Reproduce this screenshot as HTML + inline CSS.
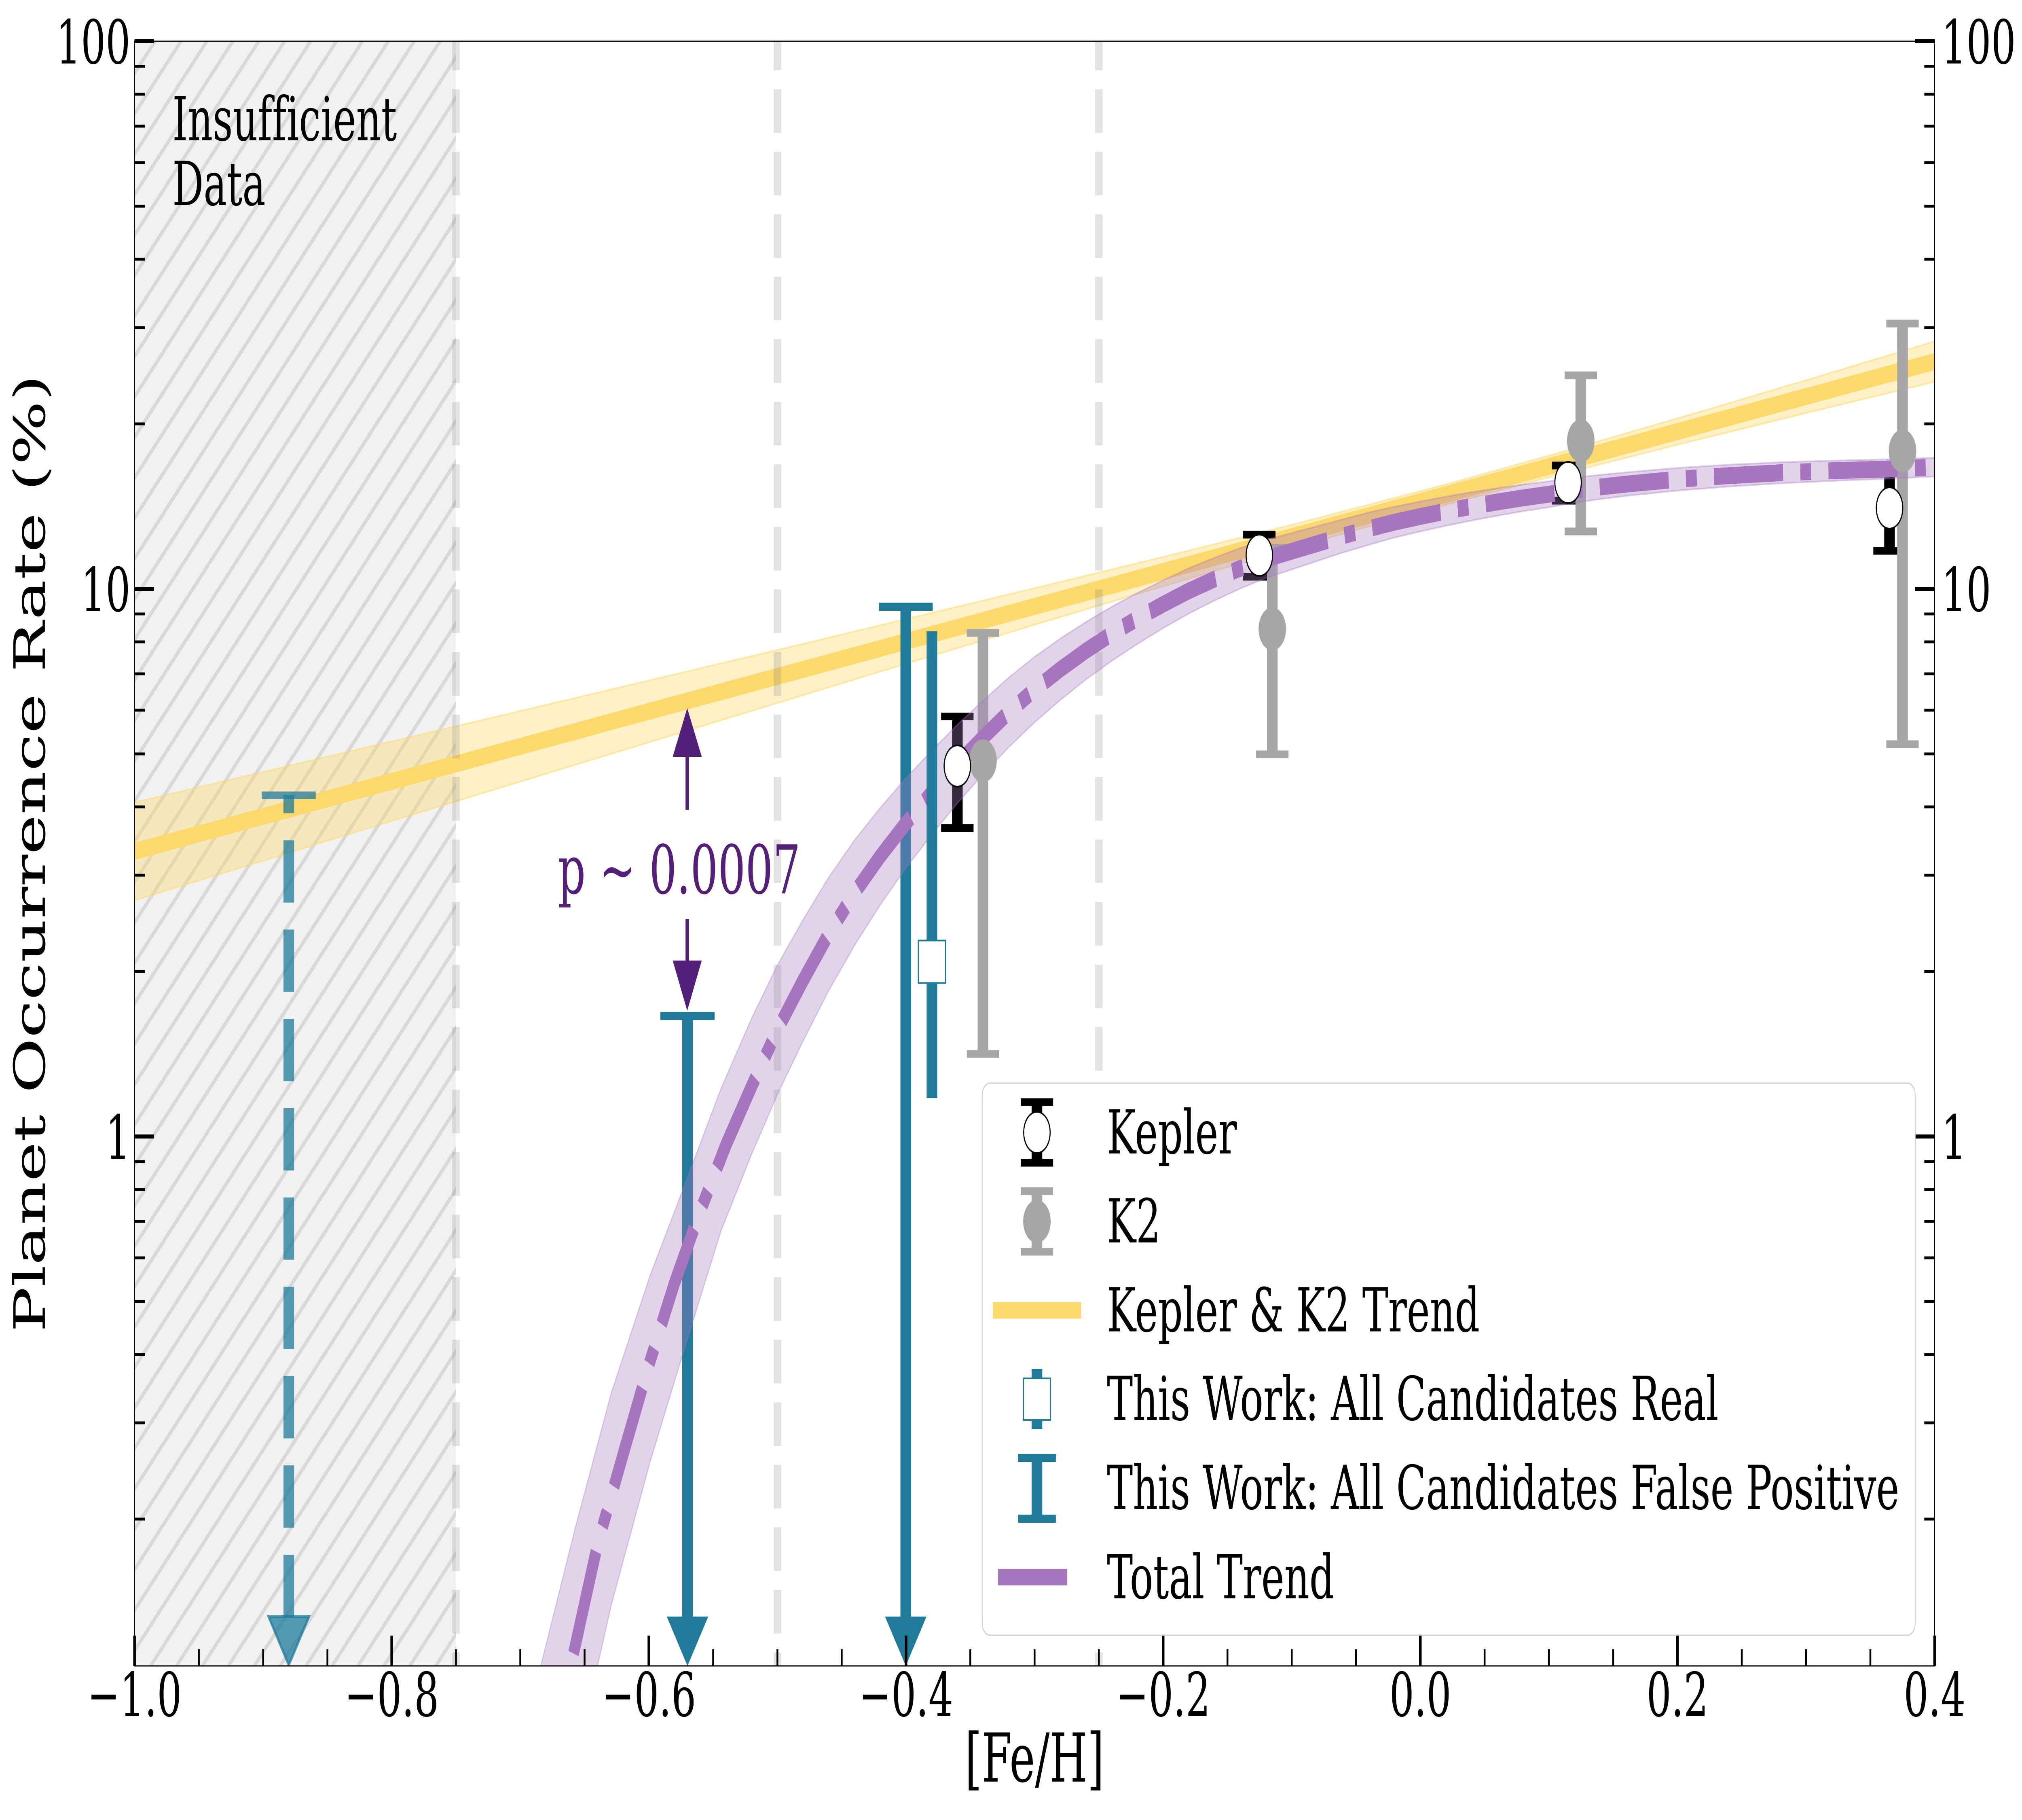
<!DOCTYPE html>
<html>
<head>
<meta charset="utf-8">
<meta name="viewport" content="width=device-width, initial-scale=1">
<style>
html,body{margin:0;padding:0;background:#fff;width:100%;height:100%;overflow:hidden;}
svg{display:block;width:100vw;height:100vh;}
text{font-family:"DejaVu Serif","Liberation Serif",serif;font-variant-ligatures:none;}
</style>
</head>
<body>
<svg xmlns="http://www.w3.org/2000/svg" viewBox="0 0 7800 4500" preserveAspectRatio="none" overflow="hidden">
<defs>
  <clipPath id="ax"><rect x="519" y="102" width="6944" height="4017"/></clipPath>
  <pattern id="hatch" patternUnits="userSpaceOnUse" width="70.71" height="70.71" patternTransform="rotate(-45)">
    <rect x="0" y="0" width="70.71" height="70.71" fill="#f1f1f1"/>
    <rect x="0" y="0" width="70.71" height="5.5" fill="#d8d8d8"/>
    <rect x="0" y="65.21" width="70.71" height="5.5" fill="#d8d8d8"/>
  </pattern>
</defs>
<rect x="0" y="0" width="7800" height="4500" fill="#fff"/>

<g clip-path="url(#ax)">
  <!-- hatched insufficient-data region -->
  <rect x="519" y="102" width="1240" height="4017" fill="url(#hatch)"/>

  <!-- yellow Kepler & K2 trend band -->
  <polygon fill="rgba(253,216,106,0.37)" stroke="rgba(253,216,106,0.55)" stroke-width="4"
    points="519,1984 1000,1911 1500,1835 2000,1759 2500,1683 3000,1607 3500,1530 4000,1453 4500,1375 5000,1295 5600,1194 6000,1122 6500,1029 7000,934 7463,844 7463,944 7000,1016 6500,1095 6000,1176 5600,1244 5000,1352 4500,1447 4000,1543 3500,1640 3000,1738 2500,1836 2000,1934 1500,2032 1000,2131 519,2226"/>
  <line x1="519" y1="2105" x2="7463" y2="894" stroke="#fdd86a" stroke-width="41.7"/>

  <!-- dashed vertical lines -->
  <line x1="1759" y1="66" x2="1759" y2="4300" stroke="rgba(128,128,128,0.22)" stroke-width="29" stroke-dasharray="107.9 46.7"/>
  <line x1="2999" y1="66" x2="2999" y2="4300" stroke="rgba(128,128,128,0.22)" stroke-width="29" stroke-dasharray="107.9 46.7"/>
  <line x1="4239" y1="66" x2="4239" y2="4300" stroke="rgba(128,128,128,0.22)" stroke-width="29" stroke-dasharray="107.9 46.7"/>

  <!-- Teal false-positive upper limits -->
  <g fill="rgba(32,123,155,0.75)">
    <rect x="1010" y="1957" width="208" height="19"/>
    <polygon points="1036,3997 1192,3997 1114,4117" stroke="rgba(32,123,155,0.75)" stroke-width="8"/>
  </g>
  <line x1="1114" y1="3998" x2="1114" y2="1966" stroke="rgba(32,123,155,0.75)" stroke-width="41" stroke-dasharray="154 66.8"/>

  <g fill="#207b9b">
    <rect x="2547.5" y="2502" width="209" height="20"/>
    <rect x="2631.5" y="2512" width="41" height="1486"/>
    <polygon points="2572,3997 2732,3997 2652,4119"/>
    <rect x="3390" y="1490" width="208" height="20"/>
    <rect x="3473.5" y="1500" width="41" height="2498"/>
    <polygon points="3414,3997 3574,3997 3494,4119"/>
  </g>

  <!-- Kepler errorbars -->
  <g fill="#000">
    <rect x="3672.5" y="1771" width="41" height="276"/>
    <rect x="3630.5" y="1762" width="125" height="19"/>
    <rect x="3630.5" y="2038" width="125" height="19"/>
    <rect x="4837.5" y="1322" width="41" height="104"/>
    <rect x="4795.5" y="1312.5" width="125" height="19"/>
    <rect x="4795.5" y="1416.5" width="125" height="19"/>
    <rect x="6028.5" y="1151" width="41" height="87"/>
    <rect x="5986.5" y="1141.5" width="125" height="19"/>
    <rect x="5986.5" y="1228.5" width="125" height="19"/>
    <rect x="7268.5" y="1166" width="41" height="196"/>
    <rect x="7226.5" y="1156.5" width="125" height="19"/>
    <rect x="7226.5" y="1352.5" width="125" height="19"/>
  </g>
  <!-- K2 errorbars -->
  <g fill="#a6a6a6">
    <rect x="3771.5" y="1565" width="41" height="1041"/>
    <rect x="3729.5" y="1555.5" width="125" height="19"/>
    <rect x="3729.5" y="2596.5" width="125" height="19"/>
    <rect x="4887.5" y="1355" width="41" height="510"/>
    <rect x="4845.5" y="1345.5" width="125" height="19"/>
    <rect x="4845.5" y="1855.5" width="125" height="19"/>
    <rect x="6077.5" y="928" width="41" height="386"/>
    <rect x="6035.5" y="918.5" width="125" height="19"/>
    <rect x="6035.5" y="1304.5" width="125" height="19"/>
    <rect x="7318.5" y="800" width="41" height="1040"/>
    <rect x="7276.5" y="790.5" width="125" height="19"/>
    <rect x="7276.5" y="1830.5" width="125" height="19"/>
  </g>

  <!-- Purple total trend band -->
  <polygon fill="rgba(166,117,190,0.33)" stroke="rgba(166,117,190,0.35)" stroke-width="4"
    points="2040,4237 2086,4119 2219,3778 2359,3442 2508,3153 2641,2930 2781,2692 2900,2517 2999,2386 3098,2274 3197,2169 3297,2077 3396,1997 3495,1924 3594,1856 3693,1792 3793,1732 3892,1675 3991,1624 4090,1579 4189,1538 4289,1500 4388,1466 4487,1435 4586,1405 4685,1379 4785,1355 4884,1335 4983,1318 5082,1301 5181,1284 5281,1267 5380,1253 5479,1240 5578,1228 5677,1217 5777,1207 5876,1198 5975,1190 6074,1181 6174,1174 6273,1168 6471,1157 6670,1149 6868,1143 7067,1139 7265,1136 7463,1132 7600,1129 7600,1175 7463,1178 7265,1184 7067,1189 6868,1195 6670,1203 6471,1213 6273,1226 6174,1234 6074,1243 5975,1254 5876,1264 5777,1275 5677,1287 5578,1300 5479,1314 5380,1329 5281,1347 5181,1366 5082,1387 4983,1408 4884,1429 4785,1455 4685,1485 4586,1517 4487,1553 4388,1592 4289,1634 4189,1680 4090,1731 3991,1786 3892,1847 3793,1914 3693,1986 3594,2064 3495,2146 3396,2237 3297,2337 3197,2449 3098,2574 2999,2706 2900,2853 2781,3044 2641,3333 2508,3614 2359,3966 2305,4119 2260,4246"/>
  <!-- Purple total trend line (dash-dot) -->
  <path fill="none" stroke="#a675be" stroke-width="41.7" stroke-dasharray="266.7 66.7 41.7 66.7" stroke-dashoffset="53.3"
    d="M2106,4462 L2205,4110 L2305,3819 L2404,3595 L2503,3375 L2602,3172 L2702,2993 L2801,2830 L2900,2685 L2999,2546 L3098,2424 L3197,2309 L3297,2207 L3396,2117 L3495,2035 L3594,1960 L3693,1889 L3793,1823 L3892,1761 L3991,1705 L4090,1655 L4189,1609 L4289,1567 L4388,1529 L4487,1494 L4586,1461 L4685,1432 L4785,1405 L4884,1382 L4983,1363 L5082,1344 L5181,1325 L5281,1307 L5380,1291 L5479,1277 L5578,1264 L5677,1252 L5777,1241 L5876,1231 L5975,1222 L6074,1212 L6174,1204 L6273,1197 L6471,1185 L6670,1176 L6868,1169 L7067,1164 L7265,1160 L7463,1155 L7600,1152"/>

  <!-- This Work: all candidates real -->
  <rect x="3574.5" y="1561" width="41" height="1154" fill="#207b9b"/>
  <rect x="3542.5" y="2325.5" width="105" height="105" fill="#fff" stroke="#207b9b" stroke-width="4"/>

  <!-- markers -->
  <g fill="#a6a6a6">
    <circle cx="3792" cy="1881" r="53"/>
    <circle cx="4908" cy="1555" r="53"/>
    <circle cx="6098" cy="1090" r="53"/>
    <circle cx="7339" cy="1115" r="53"/>
  </g>
  <g fill="#fff" stroke="#000" stroke-width="4">
    <circle cx="3693" cy="1894" r="51"/>
    <circle cx="4858" cy="1373" r="51"/>
    <circle cx="6049" cy="1193" r="51"/>
    <circle cx="7289" cy="1256" r="51"/>
  </g>

  <!-- p-value annotation arrows -->
  <g fill="#531f78">
    <rect x="2644.5" y="1871" width="13" height="131"/>
    <polygon points="2595,1871 2707,1871 2651,1751"/>
    <rect x="2644.5" y="2272" width="13" height="103"/>
    <polygon points="2595,2375 2707,2375 2651,2499"/>
  </g>
</g>

<text x="2620" y="2209" font-size="166.7" text-anchor="middle" fill="#531f78">p ~ 0.0007</text>

<!-- Insufficient data -->
<text x="665" y="347" font-size="150" fill="#000">Insufficient</text>
<text x="665" y="507" font-size="150" fill="#000">Data</text>

<!-- spines -->
<rect x="519" y="102" width="6944" height="4017" fill="none" stroke="#000" stroke-width="3"/>

<!-- major ticks -->
<path stroke="#000" stroke-width="10" fill="none"
  d="M519,102h75 M519,1456h75 M519,2810h75
     M7463,102h-75 M7463,1456h-75 M7463,2810h-75
     M519,4119v-75 M1511,4119v-75 M2503,4119v-75 M3495,4119v-75 M4487,4119v-75 M5479,4119v-75 M6471,4119v-75 M7463,4119v-75"/>
<!-- minor ticks -->
<path stroke="#000" stroke-width="7" fill="none"
  d="M519,164h40 M519,233h40 M519,312h40 M519,402h40 M519,510h40 M519,641h40 M519,810h40 M519,1048h40
     M519,1518h40 M519,1587h40 M519,1666h40 M519,1756h40 M519,1864h40 M519,1995h40 M519,2164h40 M519,2402h40
     M519,2872h40 M519,2941h40 M519,3020h40 M519,3110h40 M519,3218h40 M519,3349h40 M519,3518h40 M519,3756h40
     M7463,164h-40 M7463,233h-40 M7463,312h-40 M7463,402h-40 M7463,510h-40 M7463,641h-40 M7463,810h-40 M7463,1048h-40
     M7463,1518h-40 M7463,1587h-40 M7463,1666h-40 M7463,1756h-40 M7463,1864h-40 M7463,1995h-40 M7463,2164h-40 M7463,2402h-40
     M7463,2872h-40 M7463,2941h-40 M7463,3020h-40 M7463,3110h-40 M7463,3218h-40 M7463,3349h-40 M7463,3518h-40 M7463,3756h-40
     M767,4119v-41 M1015,4119v-41 M1263,4119v-41 M1759,4119v-41 M2007,4119v-41 M2255,4119v-41 M2751,4119v-41
     M2999,4119v-41 M3247,4119v-41 M3743,4119v-41 M3991,4119v-41 M4239,4119v-41 M4735,4119v-41 M4983,4119v-41
     M5231,4119v-41 M5727,4119v-41 M5975,4119v-41 M6223,4119v-41 M6719,4119v-41 M6967,4119v-41 M7215,4119v-41"/>

<!-- y tick labels -->
<g font-size="150" fill="#000">
  <text x="503" y="157" text-anchor="end">100</text>
  <text x="503" y="1511" text-anchor="end">10</text>
  <text x="503" y="2865" text-anchor="end">1</text>
  <text x="7490" y="157">100</text>
  <text x="7490" y="1511">10</text>
  <text x="7490" y="2865">1</text>
</g>
<!-- x tick labels -->
<g font-size="150" fill="#000" text-anchor="middle">
  <text x="519" y="4243">−1.0</text>
  <text x="1511" y="4243">−0.8</text>
  <text x="2503" y="4243">−0.6</text>
  <text x="3495" y="4243">−0.4</text>
  <text x="4487" y="4243">−0.2</text>
  <text x="5479" y="4243">0.0</text>
  <text x="6471" y="4243">0.2</text>
  <text x="7463" y="4243">0.4</text>
</g>

<!-- axis labels -->
<text x="3991" y="4405" font-size="166.7" text-anchor="middle" fill="#000">[Fe/H]</text>
<text transform="translate(-27,4220) rotate(-90)" x="2110" y="200" font-size="166.7" text-anchor="middle" fill="#000">Planet Occurrence Rate (%)</text>

<!-- legend -->
<rect x="3789" y="2678" width="3599" height="1365" rx="30" ry="30" fill="#fff" stroke="#cccccc" stroke-width="3"/>
<!-- Kepler handle -->
<g fill="#000">
  <rect x="3979.5" y="2725" width="41" height="150"/>
  <rect x="3937.5" y="2715.5" width="125" height="19"/>
  <rect x="3937.5" y="2865.5" width="125" height="19"/>
</g>
<circle cx="4000" cy="2800" r="51" fill="#fff" stroke="#000" stroke-width="4"/>
<!-- K2 handle -->
<g fill="#a6a6a6">
  <rect x="3979.5" y="2945" width="41" height="150"/>
  <rect x="3937.5" y="2935.5" width="125" height="19"/>
  <rect x="3937.5" y="3085.5" width="125" height="19"/>
  <circle cx="4000" cy="3020" r="53"/>
</g>
<!-- Trend handle -->
<rect x="3830" y="3219.5" width="340" height="41" fill="#fdd86a"/>
<!-- Real handle -->
<rect x="3979.5" y="3385" width="41" height="149" fill="#207b9b"/>
<rect x="3948" y="3408" width="104" height="103" fill="#fff" stroke="#207b9b" stroke-width="4"/>
<!-- FP handle -->
<g fill="#207b9b">
  <rect x="3979.5" y="3605" width="41" height="150"/>
  <rect x="3927" y="3595" width="146" height="20"/>
  <rect x="3927" y="3745" width="146" height="20"/>
</g>
<!-- Total trend handle -->
<rect x="3850" y="3879" width="267" height="41" fill="#a675be"/>

<g font-size="150" fill="#000">
  <text x="4270" y="2852">Kepler</text>
  <text x="4270" y="3072">K2</text>
  <text x="4270" y="3292">Kepler &amp; K2 Trend</text>
  <text x="4270" y="3511">This Work: All Candidates Real</text>
  <text x="4270" y="3731">This Work: All Candidates False Positive</text>
  <text x="4270" y="3952">Total Trend</text>
</g>
</svg>
</body>
</html>
